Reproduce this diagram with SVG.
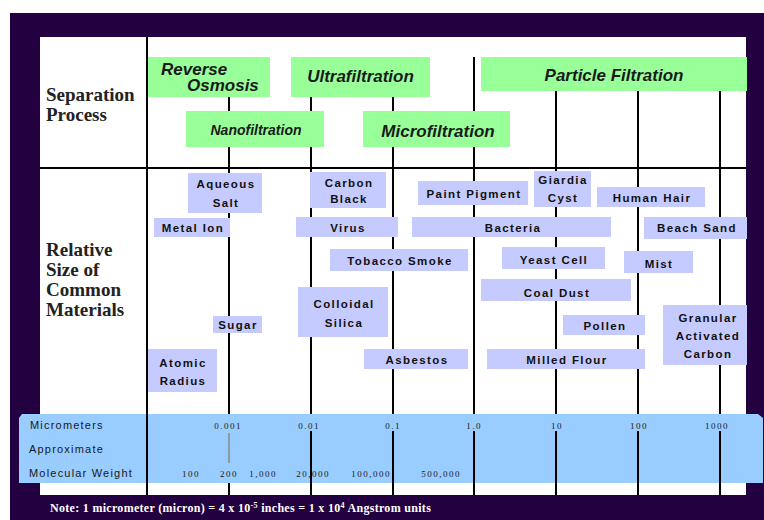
<svg xmlns="http://www.w3.org/2000/svg" width="764" height="520" viewBox="0 0 764 520">
<style>
.proc{fill:#99ff99}
.mat{fill:#c6cbff}
.pt{font-family:"Liberation Sans",Arial,sans-serif;font-weight:bold;font-style:italic;font-size:17px;fill:#1a1a1a}
.mt{font-family:"Liberation Sans",Arial,sans-serif;font-weight:bold;font-size:11.5px;letter-spacing:1.4px;fill:#111;text-anchor:middle}
.hd{font-family:"Liberation Serif","Times New Roman",serif;font-weight:bold;font-size:19px;fill:#222}
.bl{font-family:"Liberation Sans",Arial,sans-serif;font-size:11px;letter-spacing:1.2px;fill:#1a1a1a}
.num{font-family:"Liberation Serif","Times New Roman",serif;font-size:9px;letter-spacing:1.5px;fill:#1a1a1a;text-anchor:middle}
.grid line{stroke:#000;stroke-width:2}
</style>
<rect x="0" y="0" width="764" height="520" fill="#ffffff"/>
<rect x="10" y="13" width="754" height="507" fill="#230040"/>
<rect x="40" y="37" width="706" height="458" fill="#ffffff"/>

<g id="connectors" class="grid">
<line x1="147" y1="37" x2="147" y2="495"/>
<line x1="40" y1="168" x2="746" y2="168"/>
<line x1="229" y1="57" x2="229" y2="495"/>
<line x1="311" y1="57" x2="311" y2="495"/>
<line x1="393" y1="57" x2="393" y2="495"/>
<line x1="474" y1="57" x2="474" y2="495"/>
<line x1="556" y1="57" x2="556" y2="495"/>
<line x1="638" y1="57" x2="638" y2="495"/>
<line x1="720" y1="57" x2="720" y2="495"/>
</g>

<text class="hd" x="46" y="101">Separation</text>
<text class="hd" x="46" y="121">Process</text>
<text class="hd" x="46" y="256">Relative</text>
<text class="hd" x="46" y="276">Size of</text>
<text class="hd" x="46" y="296">Common</text>
<text class="hd" x="46" y="316">Materials</text>

<g id="reverse-osmosis"><rect class="proc" x="148" y="57" width="122" height="40"/><text class="pt" x="161" y="75">Reverse</text><text class="pt" x="187" y="91">Osmosis</text></g>
<g id="ultrafiltration"><rect class="proc" x="291" y="57" width="139" height="40"/><text class="pt" x="360.5" y="82" text-anchor="middle">Ultrafiltration</text></g>
<g id="particle-filtration"><rect class="proc" x="481" y="57" width="266" height="34"/><text class="pt" x="614" y="81" text-anchor="middle">Particle Filtration</text></g>
<g id="nanofiltration"><rect class="proc" x="186" y="111" width="138" height="36"/><text class="pt" x="256" y="135" text-anchor="middle" style="font-size:14px">Nanofiltration</text></g>
<g id="microfiltration"><rect class="proc" x="363" y="111" width="147" height="36"/><text class="pt" x="438" y="136.5" text-anchor="middle">Microfiltration</text></g>

<g id="aqueous-salt"><rect class="mat" x="188" y="173" width="74" height="40"/><text class="mt" x="226" y="188">Aqueous</text><text class="mt" x="226" y="207">Salt</text></g>
<g id="metal-ion"><rect class="mat" x="154" y="218" width="76" height="19"/><text class="mt" x="193" y="232">Metal Ion</text></g>
<g id="carbon-black"><rect class="mat" x="310" y="172" width="76" height="36"/><text class="mt" x="349" y="187">Carbon</text><text class="mt" x="349" y="203">Black</text></g>
<g id="virus"><rect class="mat" x="296" y="217" width="102" height="20"/><text class="mt" x="348" y="232">Virus</text></g>
<g id="tobacco-smoke"><rect class="mat" x="330" y="249" width="138" height="22"/><text class="mt" x="400" y="265">Tobacco Smoke</text></g>
<g id="colloidal-silica"><rect class="mat" x="298" y="287" width="90" height="50"/><text class="mt" x="344" y="308">Colloidal</text><text class="mt" x="344" y="327">Silica</text></g>
<g id="sugar"><rect class="mat" x="213" y="316" width="49" height="17"/><text class="mt" x="238" y="329">Sugar</text></g>
<g id="atomic-radius"><rect class="mat" x="148" y="349" width="69" height="43"/><text class="mt" x="183" y="367">Atomic</text><text class="mt" x="183" y="385">Radius</text></g>
<g id="asbestos"><rect class="mat" x="364" y="349" width="104" height="20"/><text class="mt" x="417" y="364">Asbestos</text></g>
<g id="paint-pigment"><rect class="mat" x="418" y="181" width="110" height="24"/><text class="mt" x="474" y="198">Paint Pigment</text></g>
<g id="giardia-cyst"><rect class="mat" x="534" y="171" width="57" height="36"/><text class="mt" x="563" y="184">Giardia</text><text class="mt" x="563" y="202">Cyst</text></g>
<g id="human-hair"><rect class="mat" x="597" y="187" width="108" height="20"/><text class="mt" x="652" y="202">Human Hair</text></g>
<g id="bacteria"><rect class="mat" x="412" y="217" width="199" height="20"/><text class="mt" x="513" y="232">Bacteria</text></g>
<g id="beach-sand"><rect class="mat" x="644" y="217" width="103" height="22"/><text class="mt" x="697" y="232">Beach Sand</text></g>
<g id="yeast-cell"><rect class="mat" x="502" y="247" width="103" height="22"/><text class="mt" x="554" y="264">Yeast Cell</text></g>
<g id="mist"><rect class="mat" x="624" y="251" width="69" height="22"/><text class="mt" x="659" y="268">Mist</text></g>
<g id="coal-dust"><rect class="mat" x="481" y="279" width="150" height="22"/><text class="mt" x="557" y="297">Coal Dust</text></g>
<g id="pollen"><rect class="mat" x="563" y="315" width="82" height="20"/><text class="mt" x="605" y="330">Pollen</text></g>
<g id="granular-activated-carbon"><rect class="mat" x="663" y="305" width="84" height="60"/><text class="mt" x="708" y="322">Granular</text><text class="mt" x="708" y="340">Activated</text><text class="mt" x="708" y="358">Carbon</text></g>
<g id="milled-flour"><rect class="mat" x="487" y="349" width="158" height="20"/><text class="mt" x="567" y="364">Milled Flour</text></g>

<g id="scale">
<path d="M22,414 L758,414 L763,418 L763,483 L19,483 L19,418 Z" fill="#99ccff"/>
<g class="grid">
<line x1="147" y1="414" x2="147" y2="483"/>
<line x1="311" y1="431" x2="311" y2="483"/>
<line x1="393" y1="431" x2="393" y2="483"/>
<line x1="474" y1="431" x2="474" y2="483"/>
<line x1="556" y1="431" x2="556" y2="483"/>
<line x1="638" y1="431" x2="638" y2="483"/>
<line x1="720" y1="431" x2="720" y2="483"/>
</g>
<line x1="229" y1="433" x2="229" y2="463" stroke="#888" stroke-width="1.5"/>
<text class="bl" x="30" y="429">Micrometers</text>
<text class="bl" x="29" y="453">Approximate</text>
<text class="bl" x="29" y="477">Molecular Weight</text>
<text class="num" x="228" y="429">0.001</text>
<text class="num" x="309" y="429">0.01</text>
<text class="num" x="393" y="429">0.1</text>
<text class="num" x="474" y="429">1.0</text>
<text class="num" x="557" y="429">10</text>
<text class="num" x="639" y="429">100</text>
<text class="num" x="717" y="429">1000</text>
<text class="num" x="191" y="477">100</text>
<text class="num" x="229" y="477">200</text>
<text class="num" x="263" y="477">1,000</text>
<text class="num" x="313" y="477">20,000</text>
<text class="num" x="371" y="477">100,000</text>
<text class="num" x="441" y="477">500,000</text>
</g>

<text x="50" y="512" font-family="'Liberation Serif','Times New Roman',serif" font-weight="bold" font-size="12" letter-spacing="0.3" fill="#ffffff">Note: 1 micrometer (micron) = 4 x 10<tspan font-size="8" dy="-4">-5</tspan><tspan dy="4"> inches = 1 x 10</tspan><tspan font-size="8" dy="-4">4</tspan><tspan dy="4"> Angstrom units</tspan></text>
</svg>
